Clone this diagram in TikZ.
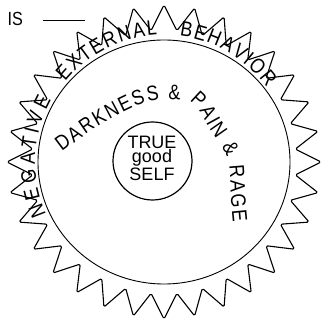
\documentclass[tikz,border=0pt]{standalone}
\usepackage{fontspec}
\setmainfont{Liberation Sans}
\newfontfamily\handfont[FakeStretch=0.85]{Liberation Sans}
\usepackage{tikz}
\usetikzlibrary{decorations.text, positioning}
\tikzset{
  ring/.style={draw, line width=0.9pt},
  core ring/.style={draw, line width=1.2pt},
  rays/.style={draw, line width=1.1pt, line join=round, rounded corners=1.5pt},
  hand/.style={font=\handfont\fontsize{19}{19}\selectfont},
  arctext/.style={decorate, decoration={text along path, text align={fit to path},
    text={|\handfont\fontsize{21}{21}\selectfont|#1}}},
}

\begin{document}
\begin{tikzpicture}[x=1pt, y=1pt]
  \useasboundingbox (0,0) rectangle (321,326);
  \coordinate (hub) at (164,164);
  \coordinate (mid) at (152.5,165);
  \draw[rays, shift={(hub)}] plot[variable=\t, samples at={0,...,63}]
    ({90+\t*5.625}:{mod(\t,2)==0 ? 157 : 132}) -- cycle;
  \draw[ring] (hub) ellipse [x radius=126, y radius=122];
  \draw[core ring] (mid) ellipse [x radius=39.5, y radius=39];
  \node[hand, anchor=west] (is) at (4,307) {IS\hspace{20pt}\rule[5pt]{42pt}{1pt}};
  \node[align=center, font=\fontsize{18}{14.5}\selectfont] (core) at (152,168) {TRUE\\good\\SELF};
  \path[arctext={NEGATIVE}] (hub) ++(204:129) arc[start angle=204, end angle=151, radius=129];
  \path[arctext={EXTERNAL}] (hub) ++(141:127) arc[start angle=141, end angle=93, radius=127];
  \path[arctext={BEHAVIOR}] (hub) ++(83:127) arc[start angle=83, end angle=36, radius=127];
  \path[arctext={DARKNESS {\&} PAIN {\&} RAGE}] plot[smooth] coordinates
    {(62,174) (100,201) (148,224) (190,224) (210,196) (228,166) (231,126) (233,104)};
\end{tikzpicture}
\end{document}
